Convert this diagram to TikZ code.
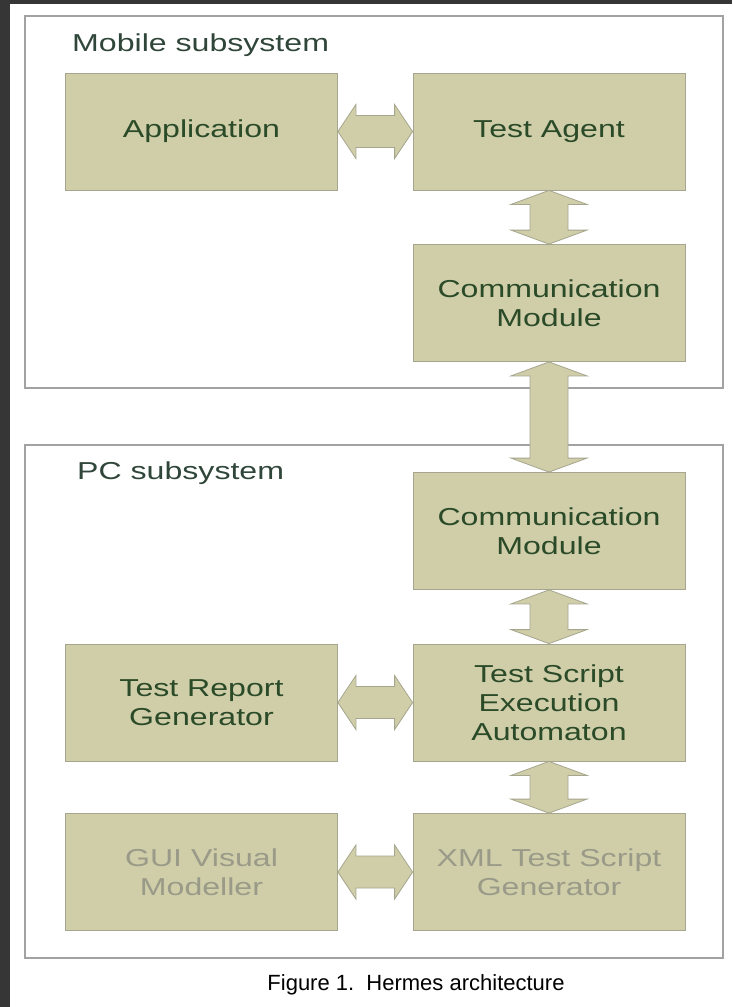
\documentclass[tikz,border=0pt]{standalone}
\usepackage{fontspec}
\setmainfont{Liberation Sans}
\newfontfamily\widefont{Liberation Sans}[FakeStretch=1.31]
\usetikzlibrary{calc}

\definecolor{boxfill}{HTML}{CFCEA9}
\definecolor{boxline}{HTML}{A6A68E}
\definecolor{textgreen}{HTML}{2A4A28}
\definecolor{labelgreen}{HTML}{30463A}
\definecolor{fadedtext}{HTML}{9A9A88}
\definecolor{frameline}{HTML}{A2A2A2}
\definecolor{darkedge}{HTML}{363636}

\tikzset{
  unit/.style={draw=boxline, line width=0.8pt, fill=boxfill,
    minimum width=272pt, minimum height=117pt, inner sep=0pt, align=center,
    font=\widefont\fontsize{24.5}{29}\selectfont, text=textgreen},
  faded/.style={unit, text=fadedtext},
  sublabel/.style={anchor=west, inner sep=0pt,
    font=\widefont\fontsize{24.5}{29}\selectfont, text=labelgreen},
  frame/.style={draw=frameline, line width=1.6pt},
  blockarrow/.style={fill=boxfill, draw=boxline, line width=0.8pt, line join=miter},
}

% horizontal double block arrow between the east side of #1 and the west side of #2
\newcommand\hblock[2]{%
  \draw[blockarrow] let \p1=(#1.east), \p2=(#2.west) in
    (\x1,\y1) -- (\x1+18pt,\y1+27pt) -- (\x1+18pt,\y1+16pt) -- (\x2-18pt,\y1+16pt)
    -- (\x2-18pt,\y1+27pt) -- (\x2,\y1) -- (\x2-18pt,\y1-27pt) -- (\x2-18pt,\y1-16pt)
    -- (\x1+18pt,\y1-16pt) -- (\x1+18pt,\y1-27pt) -- cycle;}
% vertical double block arrow between the south side of #1 and the north side of #2
\newcommand\vblock[2]{%
  \draw[blockarrow] let \p1=(#1.south), \p2=(#2.north) in
    (\x1,\y1) -- (\x1+38pt,\y1-14pt) -- (\x1+19pt,\y1-14pt) -- (\x1+19pt,\y2+14pt)
    -- (\x1+38pt,\y2+14pt) -- (\x1,\y2) -- (\x1-38pt,\y2+14pt) -- (\x1-19pt,\y2+14pt)
    -- (\x1-19pt,\y1-14pt) -- (\x1-38pt,\y1-14pt) -- cycle;}

\begin{document}
\begin{tikzpicture}[x=1pt, y=-1pt]
  \useasboundingbox (0,0) rectangle (732,1007);
  % page background and dark edge
  \fill[white] (0,0) rectangle (732,1007);
  \fill[darkedge] (0,0) rectangle (10,1007);
  \fill[darkedge] (0,0) rectangle (732,4);

  % subsystem frames
  \draw[frame] (25,16) rectangle (723,388);
  \draw[frame] (25,445) rectangle (723,958);
  \node[sublabel] (mobilelbl) at (72,45) {Mobile subsystem};
  \node[sublabel] (pclbl) at (77,473) {PC subsystem};

  % mobile subsystem
  \node[unit] (app)   at (201.5,131.5) {Application};
  \node[unit] (agent) at (549,131.5)   {Test Agent};
  \node[unit] (mcomm) at (549,303)     {Communication\\Module};

  % PC subsystem
  \node[unit]  (pcomm)  at (549,531)   {Communication\\Module};
  \node[unit]  (tsea)   at (549,702.5) {Test Script\\Execution\\Automaton};
  \node[unit]  (report) at (201.5,702.5) {Test Report\\Generator};
  \node[faded] (xmlgen) at (549,872)   {XML Test Script\\Generator};
  \node[faded] (gui)    at (201.5,872) {GUI Visual\\Modeller};

  % connectors
  \hblock{app}{agent}
  \vblock{agent}{mcomm}
  \vblock{mcomm}{pcomm}
  \vblock{pcomm}{tsea}
  \hblock{report}{tsea}
  \vblock{tsea}{xmlgen}
  \hblock{gui}{xmlgen}

  % caption
  \node[font=\fontsize{22}{26}\selectfont, text=black] (caption) at (416,985)
    {Figure 1.\ \ Hermes architecture};
\end{tikzpicture}
\end{document}
